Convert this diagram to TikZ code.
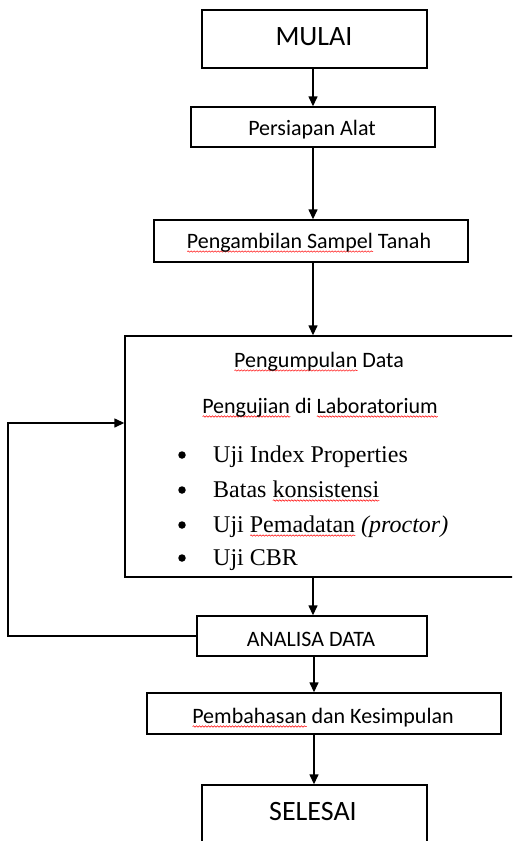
\documentclass[tikz,border=0pt]{standalone}
\usepackage{fontspec}
\setmainfont{Carlito}
\newfontfamily\timesf{Liberation Serif}
\usetikzlibrary{arrows.meta,decorations.pathmorphing}
\newsavebox\wavebox
\newlength\wavelen
\newcommand\redwave[1]{\sbox\wavebox{#1}\setlength\wavelen{\wd\wavebox}\leavevmode\rlap{\tikz[baseline=0pt,x=1pt,y=1pt]\draw[red,line width=0.5pt,decorate,decoration={snake,amplitude=0.7pt,segment length=3pt}] (0,-3.5) -- (\wavelen,-3.5);}\usebox\wavebox}
\begin{document}
\begin{tikzpicture}[x=1pt,y=-1pt,
  box/.style={draw,line width=1.4pt,inner sep=0pt},
  arr/.style={line width=1.4pt,-{Triangle[length=10pt,width=9pt]}},
  lbl/.style={font=\fontsize{22}{26}\selectfont,anchor=base,inner sep=0pt},
  biglbl/.style={font=\fontsize{28}{32}\selectfont,anchor=base,inner sep=0pt},
  item/.style={font=\timesf\fontsize{24}{28}\selectfont,anchor=base west,inner sep=0pt},
  bul/.style={circle,fill,inner sep=0pt,minimum size=7.5pt}]
\useasboundingbox (0,0) rectangle (512,841);
\clip (0,0) rectangle (512,841);
\coordinate (col) at (313,0);
% boxes
\node[box,minimum width=225pt,minimum height=58pt] (mulai) at (314.5,39) {};
\node[box,minimum width=244pt,minimum height=40pt] (persiapan) at (313,127) {};
\node[box,minimum width=314pt,minimum height=42pt] (ambil) at (311,241) {};
\node[box,minimum width=400pt,minimum height=241pt] (bigbox) at (325,456.5) {};
\node[box,minimum width=230pt,minimum height=40pt] (analisa) at (312,636) {};
\node[box,minimum width=354pt,minimum height=41pt] (bahas) at (324,713.5) {};
\node[box,minimum width=225pt,minimum height=80pt] (selesai) at (314.5,825) {};
% labels
\node[biglbl] (tmulai) at (314,45) {MULAI};
\node[lbl] (tpersiapan) at (312,135) {Persiapan Alat};
\node[lbl] (tambil) at (309,248) {\redwave{Pengambilan Sampel} Tanah};
\node[lbl] (tkumpul) at (319,367) {\redwave{Pengumpulan} Data};
\node[lbl] (tuji) at (320,413) {\redwave{Pengujian} di \redwave{Laboratorium}};
\node[bul] (b1) at (182,455) {};
\node[bul] (b2) at (182,490) {};
\node[bul] (b3) at (182,525) {};
\node[bul] (b4) at (182,558) {};
\node[item] (i1) at (213,462) {Uji Index Properties};
\node[item] (i2) at (213,497) {Batas \redwave{konsistensi}};
\node[item] (i3) at (213,532) {Uji \redwave{Pemadatan} \textit{(proctor)}};
\node[item] (i4) at (213,565) {Uji CBR};
\node[lbl] (tanalisa) at (311,646) {ANALISA DATA};
\node[lbl] (tbahas) at (323,723) {\redwave{Pembahasan} dan Kesimpulan};
\node[biglbl] (tselesai) at (313,820) {SELESAI};
% connectors
\draw[arr] (mulai.south -| col) -- (persiapan.north -| col);
\draw[arr] (persiapan.south -| col) -- (ambil.north -| col);
\draw[arr] (ambil.south -| col) -- (bigbox.north -| col);
\draw[arr] (bigbox.south -| col) -- (analisa.north -| col);
\draw[arr] ([xshift=2pt]analisa.south) -- ([xshift=2pt]analisa.south |- bahas.north);
\draw[arr] ([xshift=2pt]analisa.south |- bahas.south) -- ([xshift=2pt]analisa.south |- selesai.north);
\coordinate (fb) at (8,423);
\draw[arr] (analisa.west) -| (fb) -- (fb -| bigbox.west);
\end{tikzpicture}
\end{document}
